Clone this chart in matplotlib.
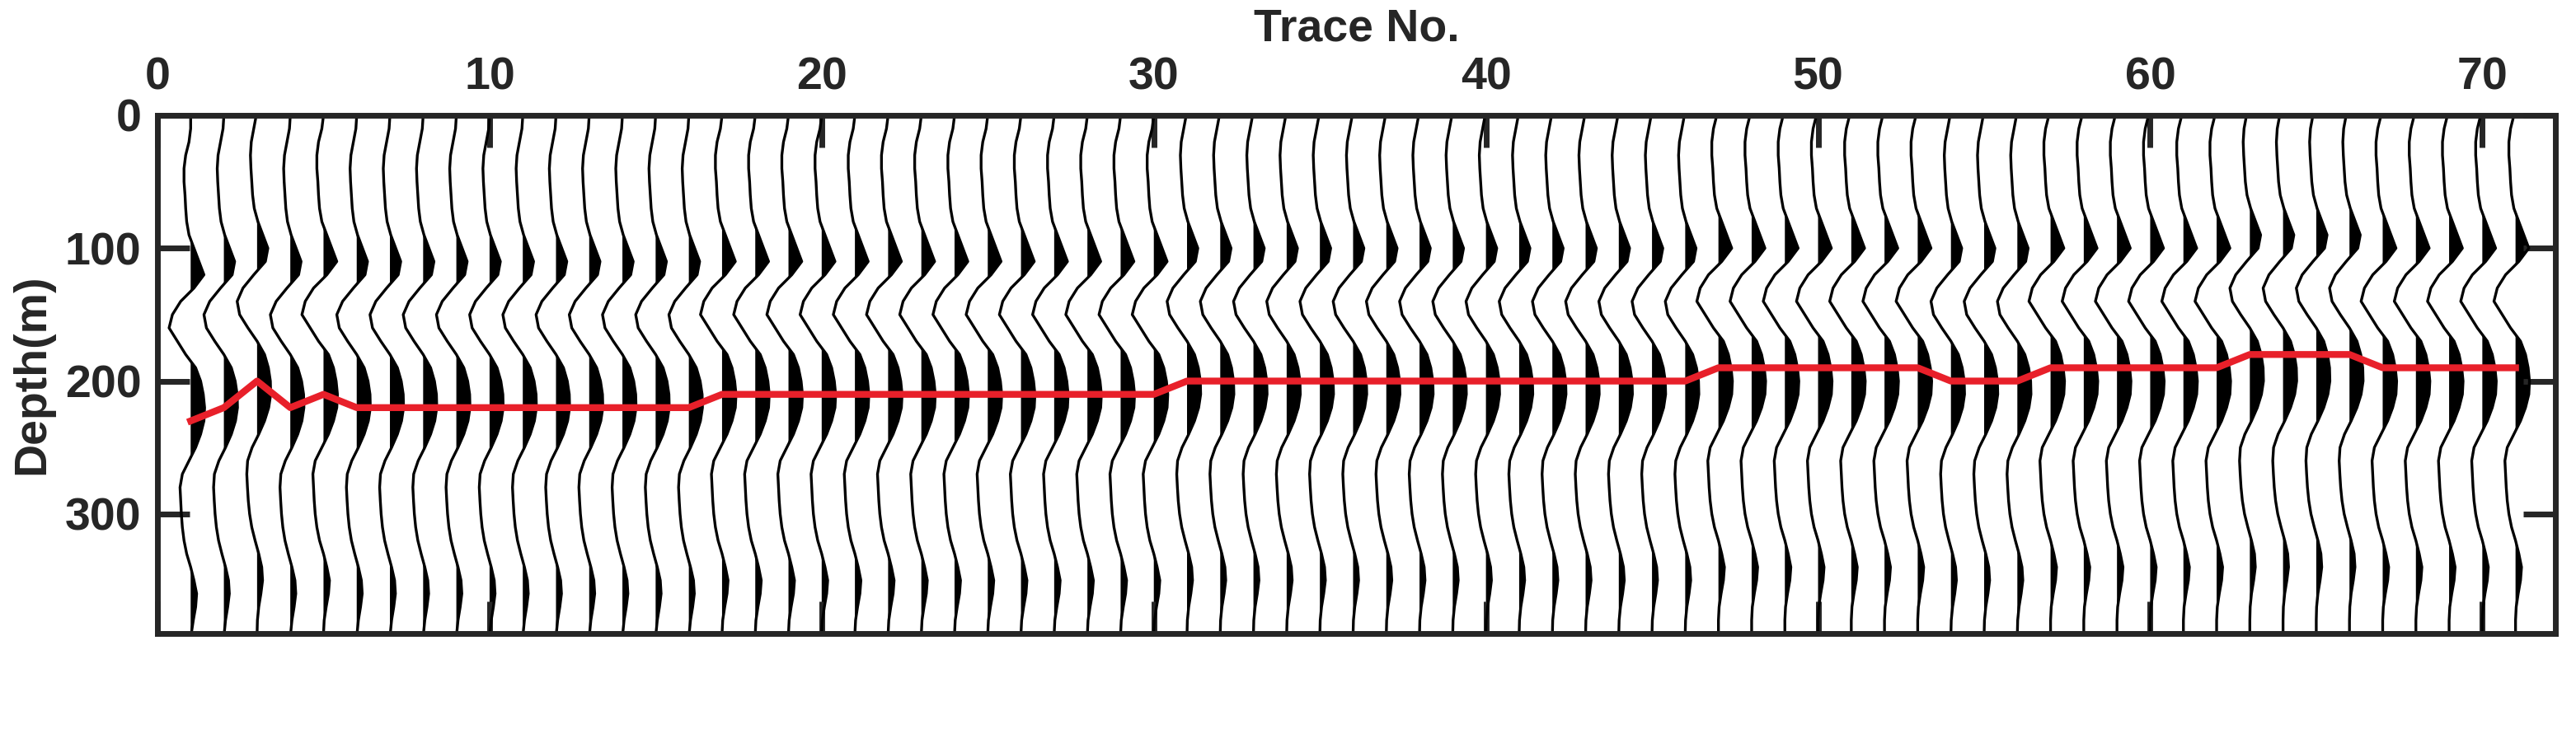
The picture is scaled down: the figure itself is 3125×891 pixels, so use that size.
import numpy as np
import matplotlib
matplotlib.use("Agg")
import matplotlib.pyplot as plt

depths = np.arange(0, 400, 10)
base_wavelet = [0, -0.05, -0.15, -0.2, -0.2, -0.17, -0.15, -0.12, -0.05, 0.1,
                0.25, 0.4, 0.1, -0.3, -0.55, -0.65, -0.4, -0.15, 0.15, 0.3,
                0.38, 0.42, 0.4, 0.3, 0.15, -0.05, -0.25, -0.32, -0.3, -0.28,
                -0.25, -0.2, -0.12, 0.0, 0.1, 0.18, 0.15, 0.08, 0.02, 0]
traces = np.arange(1, 72)
picks = ([230, 220, 200, 220, 210] + [220]*11 + [210]*14 + [200]*16 + [190]*7
         + [200]*3 + [190]*6 + [180]*4 + [190]*5)

plt.rcParams['font.family'] = ['Liberation Sans', 'DejaVu Sans']
plt.rcParams['font.weight'] = 'bold'
fig = plt.figure(figsize=(31.25, 8.91), dpi=100)
ax = fig.add_axes([191/3125, 1-769/891, (3100-191)/3125, (769-140)/891])

base = np.array(base_wavelet)
dfine = np.arange(0, 391, 2.0)
for t, p in zip(traces, picks):
    shift = (p - 210) * 0.5
    w = np.interp(depths - shift, depths, base)
    wf = np.interp(dfine, depths, w)
    ax.fill_betweenx(dfine, t, t + wf, where=wf > 0, color='black', lw=0, interpolate=True)
    ax.plot(t + w, depths, color='black', lw=2.4)

ax.plot(traces, picks, color='#e8202a', lw=6, zorder=5)

ax.set_xlim(0, 72.2)
ax.set_ylim(390, 0)
ax.xaxis.tick_top()
ax.xaxis.set_label_position('top')
ax.set_xticks(range(0, 71, 10))
ax.set_yticks([0, 100, 200, 300])
ax.tick_params(direction='in', length=28, width=5, labelsize=40, colors='#262626',
               top=True, bottom=True, left=True, right=True, pad=14)
for lab in ax.get_xticklabels() + ax.get_yticklabels():
    lab.set_fontweight('bold')
for s in ax.spines.values():
    s.set_linewidth(5)
    s.set_color('#262626')
ax.set_xlabel('Trace No.', fontsize=40, fontweight='bold', color='#262626', labelpad=14)
ax.set_ylabel('Depth(m)', fontsize=40, fontweight='bold', color='#262626', labelpad=10)
fig.savefig('out.png', dpi=100)
